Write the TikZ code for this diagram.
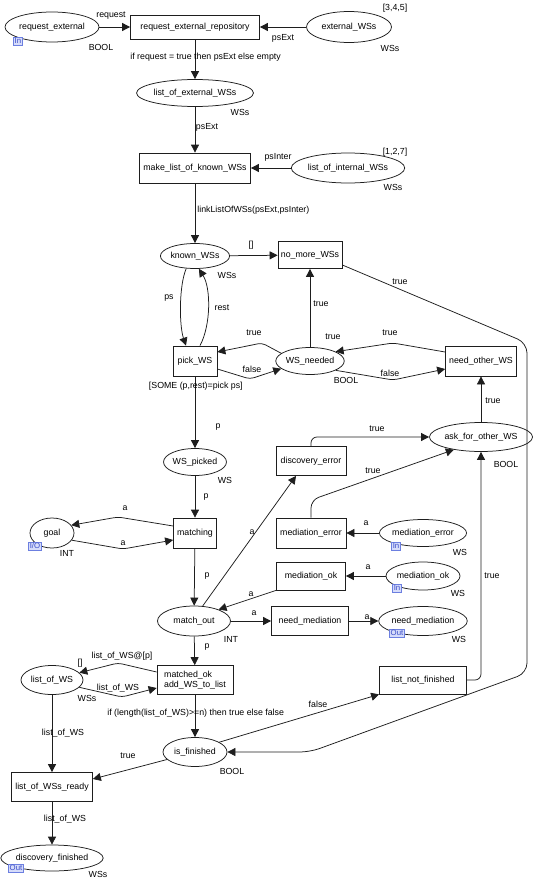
\documentclass[tikz,border=0pt]{standalone}
\usepackage{fontspec}
\setmainfont{Liberation Sans}
\usepackage{tikz}
\usetikzlibrary{arrows.meta,shapes.geometric,positioning}
\definecolor{cpnline}{HTML}{1E1E1E}
\definecolor{portedge}{HTML}{6C7FE0}
\definecolor{portfill}{HTML}{D6DCFA}
\definecolor{portink}{HTML}{3A4CC8}

\begin{document}
\begin{tikzpicture}[x=1pt,y=-1pt,>={Triangle[length=8pt,width=8pt]},
  font=\fontsize{8.8}{10}\selectfont,line width=0.75pt,
  place/.style={ellipse,draw=cpnline,inner sep=0pt},
  trans/.style={draw=cpnline,inner sep=0pt,align=left},
  arc/.style={->,draw=cpnline,line join=round},
  lbl/.style={inner sep=0pt},
  port/.style={draw=portedge,fill=portfill,text=portink,inner xsep=1.2pt,inner ysep=0pt,
    minimum height=8pt,line width=0.5pt,font=\fontsize{7.8}{8}\selectfont}]
\useasboundingbox (0,0) rectangle (539,880);
\fill[white] (0,0) rectangle (539,880);

% places
\node[place,minimum width=94pt,minimum height=30pt] (reqext) at (52,27) {request\_external};
\node[place,minimum width=85pt,minimum height=31pt] (extws) at (349,27) {external\_WSs};
\node[place,minimum width=93pt,minimum height=27pt] (listext) at (195,93) {list\_of\_external\_WSs};
\node[place,minimum width=86pt,minimum height=30pt] (listint) at (348,168) {list\_of\_internal\_WSs};
\node[place,minimum width=56pt,minimum height=25pt] (known) at (195,256) {known\_WSs};
\node[place,minimum width=55pt,minimum height=27pt] (wsn) at (310,361) {WS\_needed};
\node[place,minimum width=87pt,minimum height=29pt] (ask) at (481,437) {ask\_for\_other\_WS};
\node[place,minimum width=56pt,minimum height=27pt] (wspicked) at (195,462) {WS\_picked};
\node[place,minimum width=44pt,minimum height=30pt] (goal) at (52,533) {goal};
\node[place,minimum width=75pt,minimum height=27pt] (mederrp) at (423,533) {mediation\_error};
\node[place,minimum width=71pt,minimum height=28pt] (medokp) at (423,576) {mediation\_ok};
\node[place,minimum width=70pt,minimum height=29pt] (needmedp) at (423,621) {need\_mediation};
\node[place,minimum width=73pt,minimum height=30pt] (matchout) at (194,621) {match\_out};
\node[place,minimum width=62pt,minimum height=29pt] (listws) at (52,680) {list\_of\_WS};
\node[place,minimum width=64pt,minimum height=29pt] (isfin) at (195,752) {is\_finished};
\node[place,minimum width=93pt,minimum height=26pt] (discfin) at (52,858) {discovery\_finished};

% transitions
\node[trans,minimum width=129pt,minimum height=24pt] (reqrepo) at (195,27) {request\_external\_repository};
\node[trans,minimum width=111pt,minimum height=30pt] (mklist) at (195,168) {make\_list\_of\_known\_WSs};
\node[trans,minimum width=64pt,minimum height=27pt] (nomore) at (310,255) {no\_more\_WSs};
\node[trans,minimum width=44pt,minimum height=30pt] (pick) at (195,361) {pick\_WS};
\node[trans,minimum width=71pt,minimum height=30pt] (needow) at (481,361) {need\_other\_WS};
\node[trans,minimum width=70pt,minimum height=29pt] (discerr) at (311,461) {discovery\_error};
\node[trans,minimum width=70pt,minimum height=30pt] (mederr) at (311,533) {mediation\_error};
\node[trans,minimum width=69pt,minimum height=28pt] (medok) at (311,576) {mediation\_ok};
\node[trans,minimum width=77pt,minimum height=29pt] (needmed) at (310,621) {need\_mediation};
\node[trans,minimum width=87pt,minimum height=28pt] (listnf) at (423,680) {list\_not\_finished};
\node[trans,minimum width=43pt,minimum height=30pt] (matching) at (195,533) {matching};
\node[trans,minimum width=76pt,minimum height=29pt] (matched) at (195,680) {matched\_ok\\add\_WS\_to\_list};
\node[trans,minimum width=81pt,minimum height=29pt] (lwsready) at (52,787) {list\_of\_WSs\_ready};

% port tags
\node[port] (reqextIn) at (18,41) {In};
\node[port] (goalIO) at (35,546) {I/O};
\node[port] (mederrIn) at (396,546) {In};
\node[port] (medokIn) at (397,588) {In};
\node[port] (needmedOut) at (397,633) {Out};
\node[port] (discfinOut) at (16,868) {Out};

% arcs
\draw[arc] (reqext) -- (reqrepo);
\draw[arc] (extws) -- (reqrepo);
\draw[arc] (reqrepo) -- (listext);
\draw[arc] (listext) -- (mklist);
\draw[arc] (listint) -- (mklist);
\draw[arc] (mklist) -- (known);
\draw[arc] (known) -- (nomore);
\draw[arc] (known.235) .. controls (179,285) and (179,325) .. ([xshift=-9pt]pick.north);
\draw[arc] ([xshift=5pt]pick.north) .. controls (211,325) and (211,288) .. (known.287);
\draw[arc,rounded corners=4pt] (wsn.165) -- (262,343) -- ([yshift=9pt]pick.east);
\draw[arc,rounded corners=4pt] ([yshift=-8pt]pick.east) -- (250,379) -- (wsn.195);
\draw[arc,rounded corners=4pt] ([yshift=9pt]needow.west) -- (393,343) -- (wsn.20);
\draw[arc,rounded corners=4pt] (wsn.340) -- (393,380) -- ([yshift=-8pt]needow.west);
\draw[arc] (wsn) -- (nomore);
\draw[arc,rounded corners=10pt] ([yshift=-10pt]nomore.east) -- (527,343) -- (527,673) -- (310,752) -- (isfin.east);
\draw[arc] (pick) -- (wspicked);
\draw[arc] (wspicked) -- (matching);
\draw[arc,rounded corners=4pt] ([yshift=7pt]matching.west) -- (118,517) -- (goal.22);
\draw[arc,rounded corners=4pt] (goal.340) -- (123,549) -- ([yshift=-7pt]matching.west);
\draw[arc] (matching) -- (matchout);
\draw[arc] (matchout.60) -- ([xshift=-15pt]discerr.south);
\draw[arc] (medok.south west) -- (matchout.25);
\draw[arc] (matchout) -- (needmed);
\draw[arc] (needmed) -- (needmedp);
\draw[arc] (medokp) -- (medok);
\draw[arc] (mederrp) -- (mederr);
\draw[arc,rounded corners=6pt] (discerr.north) |- (ask.west);
\draw[arc,rounded corners=8pt] (mederr.north) -- (311,500) -- (ask.205);
\draw[arc] (ask) -- (needow);
\draw[arc,rounded corners=6pt] (listnf.east) -| (ask.south);
\draw[arc] (matchout) -- (matched);
\draw[arc,rounded corners=4pt] ([yshift=8pt]matched.west) -- (118,663) -- (listws.15);
\draw[arc,rounded corners=4pt] (listws.345) -- (122,697) -- ([yshift=-8pt]matched.west);
\draw[arc] (matched) -- (isfin);
\draw[arc] (isfin.22) -- (listnf.south west);
\draw[arc] (isfin.195) -- ([yshift=8pt]lwsready.east);
\draw[arc] (listws) -- (lwsready);
\draw[arc] (lwsready) -- (discfin);

% inscriptions
\node[lbl] (iRequest) at (111,16) {request};
\node[lbl] (tReqext) at (101,47) {BOOL};
\node[lbl] (iPsExtA) at (283,38) {psExt};
\node[lbl] (mExtws) at (395,8) {[3,4,5]};
\node[lbl] (tExtws) at (390,48) {WSs};
\node[lbl,anchor=west] (iIfReq) at (130,57) {if request = true then psExt else empty};
\node[lbl] (tListext) at (240,112) {WSs};
\node[lbl] (iPsExtB) at (207,127) {psExt};
\node[lbl] (iPsInter) at (278,157) {psInter};
\node[lbl] (mListint) at (395,152) {[1,2,7]};
\node[lbl] (tListint) at (393,187) {WSs};
\node[lbl,anchor=west] (iLink) at (197,210) {linkListOfWSs(psExt,psInter)};
\node[lbl] (iEmpty) at (251,245) {[]};
\node[lbl] (tKnown) at (227,275) {WSs};
\node[lbl] (iTrueA) at (400,282) {true};
\node[lbl] (iPs) at (169,298) {ps};
\node[lbl] (iRest) at (222,308) {rest};
\node[lbl] (iTrueB) at (321,304) {true};
\node[lbl] (iTrueC) at (254,333) {true};
\node[lbl] (mWsn) at (333,337) {true};
\node[lbl] (iTrueD) at (390,333) {true};
\node[lbl] (iFalseA) at (252,369) {false};
\node[lbl] (iFalseB) at (390,373) {false};
\node[lbl] (tWsn) at (346,380) {BOOL};
\node[lbl,anchor=east] (gPick) at (243,386) {[SOME (p,rest)=pick ps]};
\node[lbl] (iTrueE) at (493,401) {true};
\node[lbl] (iPA) at (218,427) {p};
\node[lbl] (iTrueF) at (377,429) {true};
\node[lbl] (tAsk) at (506,464) {BOOL};
\node[lbl] (iTrueG) at (373,471) {true};
\node[lbl] (tWspicked) at (225,480) {WS};
\node[lbl] (iPB) at (206,497) {p};
\node[lbl] (iAA) at (125,508) {a};
\node[lbl] (iAB) at (123,543) {a};
\node[lbl] (tGoal) at (67,553) {INT};
\node[lbl] (iAC) at (252,532) {a};
\node[lbl] (iAD) at (366,523) {a};
\node[lbl] (tMederrp) at (460,552) {WS};
\node[lbl] (iPC) at (207,576) {p};
\node[lbl] (iAE) at (368,567) {a};
\node[lbl] (tMedokp) at (458,593) {WS};
\node[lbl] (iTrueH) at (492,576) {true};
\node[lbl] (iAF) at (251,594) {a};
\node[lbl] (iAG) at (254,613) {a};
\node[lbl] (iAH) at (367,617) {a};
\node[lbl] (tNeedmedp) at (459,639) {WS};
\node[lbl] (tMatchout) at (231,639) {INT};
\node[lbl] (iPD) at (207,647) {p};
\node[lbl] (iAppend) at (122,656) {list\_of\_WS@[p]};
\node[lbl] (mListws) at (80,663) {[]};
\node[lbl] (iListA) at (118,688) {list\_of\_WS};
\node[lbl] (tListws) at (87,698) {WSs};
\node[lbl,anchor=west] (iIfLen) at (107,713) {if (length(list\_of\_WS)>=n) then true else false};
\node[lbl] (iFalseC) at (318,704) {false};
\node[lbl] (iListB) at (63,733) {list\_of\_WS};
\node[lbl] (iTrueI) at (128,756) {true};
\node[lbl] (tIsfin) at (232,771) {BOOL};
\node[lbl] (iListC) at (65,819) {list\_of\_WS};
\node[lbl] (tDiscfin) at (98,874) {WSs};
\end{tikzpicture}
\end{document}
